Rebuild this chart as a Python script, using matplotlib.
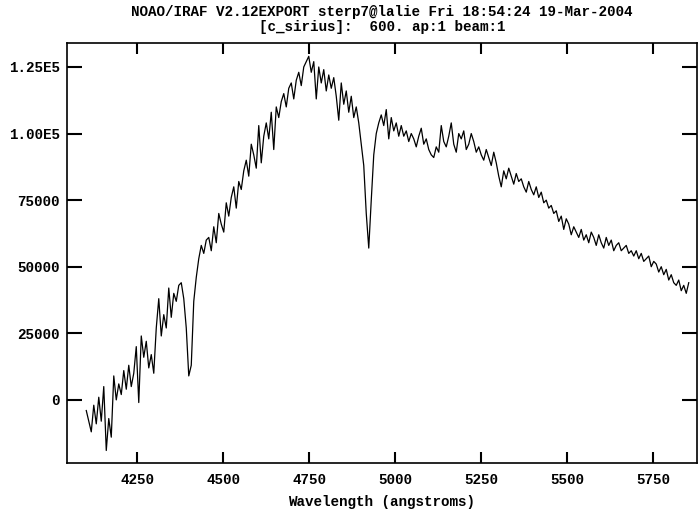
import numpy as np
import matplotlib
matplotlib.use("Agg")
import matplotlib.pyplot as plt

# ---- data (flux in thousands of counts) ----
wave_start, wave_end = 4102, 5853
flux_k = [
    -4, -8, -12, -2, -9, 1, -8, 5, -19, -7,
    -14, 9, 0, 6, 2, 11, 4, 13, 5, 10,
    20, -1, 24, 16, 22, 12, 17, 10, 27, 38,
    24, 32, 27, 42, 31, 40, 37, 43, 44, 38,
    27, 9, 13, 37, 46, 53,
    58, 55, 60, 61, 56, 65, 59, 70, 66, 63, 74, 69, 76, 80, 72, 82,
    79, 86, 90, 84, 96, 92, 87, 103, 89, 99, 104, 98, 108, 94, 110, 106,
    112, 115, 110, 117, 119, 113, 120, 123, 118, 125, 127, 129,
    123, 127, 113, 125, 119, 124, 116, 122, 117, 121,
    114, 105, 119, 111, 116, 108, 114, 106, 110, 104,
    96, 88, 70, 57, 75, 92, 100, 104, 107, 103,
    109, 98, 106, 101, 104, 99,
    103, 99, 101, 97, 100, 98, 95, 99, 102, 96, 98, 94, 92, 91, 95, 93,
    103, 97, 95, 99, 104, 96, 93, 100, 98, 101, 94, 96, 100, 97, 93, 95,
    92, 90, 94, 91, 88, 93, 89, 84, 80, 86, 83, 87, 84, 81, 85, 82,
    83, 80, 78, 82, 79, 77, 80, 76, 78, 74, 75, 72, 73, 70, 71, 67,
    69, 64, 68, 66, 62, 65, 63, 61, 64, 60, 62, 59, 63, 61, 58, 62,
    59, 57, 61, 58, 60, 56, 58, 59, 56, 57, 58, 55, 56, 54, 56, 53,
    55, 52, 53, 54, 50, 52, 51, 48, 50, 47, 49, 45, 47, 44, 43, 45,
    41, 43, 40, 44,
]
x_ticks = [4250, 4500, 4750, 5000, 5250, 5500, 5750]
x_tick_labels = ["4250", "4500", "4750", "5000", "5250", "5500", "5750"]
y_ticks = [0, 25000, 50000, 75000, 100000, 125000]
y_tick_labels = ["0", "25000", "50000", "75000", "1.00E5", "1.25E5"]
title_line1 = "NOAO/IRAF V2.12EXPORT sterp7@lalie Fri 18:54:24 19-Mar-2004"
title_line2 = "[c_sirius]:  600. ap:1 beam:1"
x_label = "Wavelength (angstroms)"

wavelength = np.linspace(wave_start, wave_end, len(flux_k))
flux = np.array(flux_k, dtype=float) * 1000.0

# ---- figure ----
FONT = "Liberation Mono"
FS = 10.3
fig = plt.figure(figsize=(6.98, 5.17), dpi=100)
ax = fig.add_axes([67 / 698, 1 - 463 / 517, 630 / 698, 420 / 517])

ax.plot(wavelength, flux, color="black", lw=0.9)

ax.set_xlim(4046, 5877)
ax.set_ylim(-23700, 134000)

ax.set_xticks(x_ticks)
ax.set_xticklabels(x_tick_labels)
ax.set_yticks(y_ticks)
ax.set_yticklabels(y_tick_labels)

ax.tick_params(axis="x", which="major", direction="in", length=8, width=1.5,
               top=True, bottom=True, pad=7)
ax.tick_params(axis="y", which="major", direction="in", length=11, width=1.5,
               left=True, right=True, pad=5)
ax.minorticks_off()
for lab in ax.get_xticklabels() + ax.get_yticklabels():
    lab.set_fontfamily(FONT)
    lab.set_fontsize(FS)
    lab.set_fontweight("bold")
for sp in ax.spines.values():
    sp.set_linewidth(1.2)

ax.set_xlabel(x_label, fontfamily=FONT, fontsize=FS, fontweight="bold", labelpad=6)

cx = (67 + 697) / 2 / 698
fig.text(cx, 1 - 12 / 517, title_line1, ha="center", va="center",
         fontfamily=FONT, fontsize=FS, fontweight="bold")
fig.text(cx, 1 - 27 / 517, title_line2, ha="center", va="center",
         fontfamily=FONT, fontsize=FS, fontweight="bold")

fig.savefig("out.png", dpi=100)
